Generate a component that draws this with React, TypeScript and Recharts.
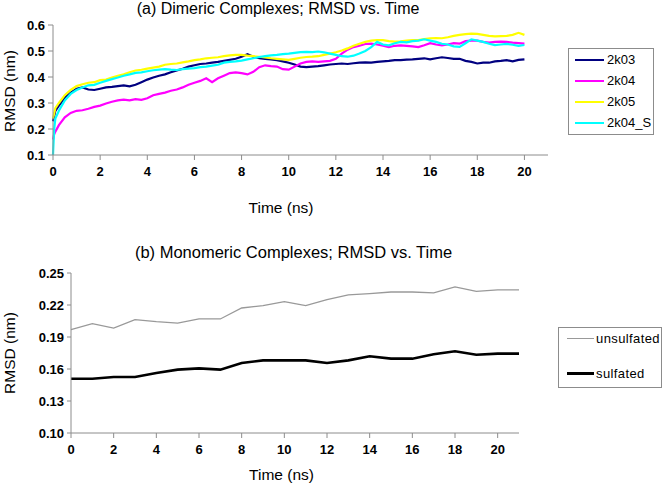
import { LineChart, Line, XAxis, YAxis } from "recharts";

// (a) dimeric complexes
const TIME = [
  0, 0.05, 0.1,
  0.25, 0.5, 0.75, 1, 1.25, 1.5, 1.75, 2, 2.25, 2.5,
  2.75, 3, 3.25, 3.5, 3.75, 4, 4.25, 4.5, 4.75, 5,
  5.25, 5.5, 5.75, 6, 6.25, 6.5, 6.75, 7, 7.25, 7.5,
  7.75, 8, 8.25, 8.5, 8.75, 9, 9.25, 9.5, 9.75, 10,
  10.25, 10.5, 10.75, 11, 11.25, 11.5, 11.75, 12, 12.25, 12.5,
  12.75, 13, 13.25, 13.5, 13.75, 14, 14.25, 14.5, 14.75, 15,
  15.25, 15.5, 15.75, 16, 16.25, 16.5, 16.75, 17, 17.25, 17.5,
  17.75, 18, 18.25, 18.5, 18.75, 19, 19.25, 19.5, 19.75, 20,
];

const S_2K03 = [
  0.23, 0.25, 0.27,
  0.29, 0.32, 0.34, 0.355, 0.36, 0.352, 0.35, 0.355, 0.36, 0.362,
  0.365, 0.368, 0.364, 0.37, 0.38, 0.39, 0.398, 0.405, 0.41, 0.418,
  0.425, 0.432, 0.44, 0.445, 0.45, 0.452, 0.455, 0.458, 0.462, 0.466,
  0.47, 0.478, 0.488, 0.478, 0.472, 0.47, 0.468, 0.465, 0.46, 0.455,
  0.448, 0.44, 0.438, 0.44, 0.442, 0.445, 0.448, 0.45, 0.452, 0.45,
  0.453, 0.455, 0.456, 0.455, 0.458, 0.46, 0.462, 0.465, 0.465, 0.467,
  0.468, 0.47, 0.472, 0.468, 0.472, 0.476, 0.473, 0.47, 0.47, 0.462,
  0.458, 0.452, 0.455, 0.455, 0.46, 0.462, 0.465, 0.46, 0.466, 0.468,
];

const S_2K04 = [
  0.16, 0.18, 0.19,
  0.215, 0.245, 0.262, 0.27, 0.272, 0.278, 0.285, 0.29, 0.298, 0.305,
  0.31, 0.313, 0.31, 0.315, 0.312, 0.318, 0.33, 0.335, 0.34, 0.347,
  0.352, 0.36, 0.37, 0.378, 0.385, 0.395, 0.38, 0.395, 0.405, 0.415,
  0.418, 0.415, 0.41, 0.42, 0.438, 0.445, 0.442, 0.44, 0.43, 0.428,
  0.44, 0.452, 0.458, 0.46, 0.458, 0.46, 0.462, 0.47, 0.49, 0.505,
  0.515, 0.52, 0.527, 0.528, 0.525, 0.52, 0.515, 0.52, 0.522, 0.52,
  0.518, 0.515, 0.522, 0.53, 0.525, 0.522, 0.525, 0.53, 0.528, 0.538,
  0.54, 0.54, 0.535, 0.532, 0.535, 0.536, 0.535, 0.532, 0.53, 0.528,
];

const S_2K05 = [
  0.24, 0.26, 0.28,
  0.3, 0.33, 0.35, 0.365, 0.372, 0.378, 0.38, 0.388, 0.39, 0.398,
  0.405, 0.41, 0.418, 0.425, 0.428, 0.432, 0.436, 0.44, 0.447, 0.45,
  0.452, 0.456, 0.46, 0.465, 0.468, 0.472, 0.474, 0.476, 0.48, 0.483,
  0.485, 0.485, 0.482, 0.48, 0.478, 0.475, 0.472, 0.47, 0.468, 0.466,
  0.47, 0.474, 0.477, 0.478, 0.48, 0.485, 0.49, 0.495, 0.502, 0.51,
  0.52, 0.528, 0.535, 0.54, 0.542, 0.542, 0.538, 0.536, 0.537, 0.54,
  0.542, 0.542, 0.546, 0.549, 0.55, 0.549, 0.553, 0.558, 0.562, 0.565,
  0.567, 0.566, 0.562, 0.558, 0.556, 0.557, 0.558, 0.562, 0.57, 0.562,
];

const S_2K04_S = [
  0.1, 0.2, 0.24,
  0.27, 0.31, 0.335, 0.35, 0.36, 0.368, 0.37, 0.378, 0.385, 0.392,
  0.398, 0.405, 0.41, 0.416, 0.418, 0.422, 0.426, 0.428, 0.43, 0.428,
  0.427, 0.43, 0.432, 0.434, 0.438, 0.44, 0.444, 0.447, 0.455, 0.458,
  0.46, 0.463, 0.468, 0.472, 0.477, 0.48, 0.483, 0.485, 0.488, 0.49,
  0.493, 0.496, 0.497, 0.496, 0.498, 0.495, 0.49, 0.485, 0.48, 0.478,
  0.482, 0.49, 0.5, 0.515, 0.535, 0.525, 0.522, 0.53, 0.535, 0.533,
  0.538, 0.54, 0.545, 0.54, 0.535, 0.528, 0.525, 0.518, 0.516, 0.53,
  0.545, 0.54, 0.535, 0.528, 0.523, 0.525, 0.527, 0.524, 0.52, 0.523,
];

const DIMER_SERIES = [
  { key: "k03", name: "2k03", color: "#000080", values: S_2K03 },
  { key: "k04", name: "2k04", color: "#ff00ff", values: S_2K04 },
  { key: "k05", name: "2k05", color: "#ffff00", values: S_2K05 },
  { key: "k04s", name: "2k04_S", color: "#00ffff", values: S_2K04_S },
];

// (b) monomeric complexes
const MONO_TIME = [0, 1, 2, 3, 4, 5, 6, 7, 8, 9, 10, 11, 12, 13, 14, 15, 16, 17, 18, 19, 20, 21];
const UNSULFATED = [
  0.197, 0.2025, 0.1984, 0.2063, 0.2044, 0.2031, 0.2069, 0.2069, 0.2172, 0.2194, 0.2231,
  0.2194, 0.225, 0.2294, 0.2306, 0.2322, 0.2322, 0.2313, 0.2369, 0.2328, 0.2341, 0.2341,
];
const SULFATED = [
  0.1509, 0.1509, 0.1525, 0.1525, 0.1563, 0.1594, 0.1606, 0.1594, 0.1656, 0.1681, 0.1681,
  0.1681, 0.1656, 0.1681, 0.1719, 0.1697, 0.1697, 0.1738, 0.1766, 0.1734, 0.1744, 0.1744,
];

const X_TICKS = [0, 2, 4, 6, 8, 10, 12, 14, 16, 18, 20];
const TOP_Y_TICKS = [0.1, 0.2, 0.3, 0.4, 0.5, 0.6];
const BOTTOM_Y_TICKS = [0.1, 0.13, 0.16, 0.19, 0.22, 0.25];

const FONT = "'Liberation Sans', Arial, sans-serif";
const AXIS = "#8c8c8c";
const tickStyle = { fontSize: 13, fontWeight: "bold" as const, fill: "#000", fontFamily: FONT };

const dimerData = TIME.map((t, i) => {
  const row: Record<string, number> = { t };
  DIMER_SERIES.forEach((s) => (row[s.key] = s.values[i]));
  return row;
});

const monoData = MONO_TIME.map((t, i) => ({
  t,
  unsulfated: UNSULFATED[i],
  sulfated: SULFATED[i],
}));

function Text({ x, y, size, children, rotate }: any) {
  return (
    <div
      style={{
        position: "absolute",
        left: x,
        top: y,
        transform: `translate(-50%, -50%)${rotate ? " rotate(-90deg)" : ""}`,
        whiteSpace: "nowrap",
        fontSize: size,
        fontFamily: FONT,
        color: "#000",
        lineHeight: 1,
      }}
    >
      {children}
    </div>
  );
}

function LegendBox({ left, top, width, height, rows, padTop, rowH, rowGap, lineLeft, lineW, gap }: any) {
  return (
    <div
      style={{
        position: "absolute",
        left,
        top,
        width,
        height,
        boxSizing: "border-box",
        border: `1px solid ${AXIS}`,
        background: "#fff",
        paddingTop: padTop,
        fontFamily: FONT,
        fontSize: 13,
        display: "flex",
        flexDirection: "column",
        rowGap,
      }}
    >
      {rows.map((r: any) => (
        <div key={r.name} style={{ display: "flex", alignItems: "center", height: rowH, paddingLeft: lineLeft }}>
          <div style={{ width: lineW, height: r.w, background: r.color, marginRight: gap, flexShrink: 0 }} />
          <span style={{ letterSpacing: r.spacing ?? 0 }}>{r.name}</span>
        </div>
      ))}
    </div>
  );
}

export default function App() {
  return (
    <div style={{ position: "absolute", left: 0, top: 0, width: 662, height: 485, background: "#fff", overflow: "hidden" }}>
      <div style={{ position: "absolute", left: 0, top: 0 }}>
        <LineChart width={662} height={230} data={dimerData} margin={{ top: 25, right: 114, bottom: 45, left: 0 }}>
          <XAxis
            type="number"
            dataKey="t"
            domain={[0, 21]}
            ticks={X_TICKS}
            height={30}
            stroke={AXIS}
            tickSize={5}
            tickMargin={7}
            tick={tickStyle}
          />
          <YAxis
            type="number"
            domain={[0.1, 0.6]}
            ticks={TOP_Y_TICKS}
            width={53}
            stroke={AXIS}
            tickSize={5}
            tickMargin={3}
            tick={tickStyle}
            tickFormatter={(v) => v.toFixed(1)}
          />
          {DIMER_SERIES.map((s) => (
            <Line
              key={s.key}
              type="linear"
              dataKey={s.key}
              stroke={s.color}
              strokeWidth={2.2}
              dot={false}
              isAnimationActive={false}
            />
          ))}
        </LineChart>
      </div>

      <div style={{ position: "absolute", left: 0, top: 230 }}>
        <LineChart width={662} height={255} data={monoData} margin={{ top: 43, right: 143, bottom: 22, left: 0 }}>
          <XAxis
            type="number"
            dataKey="t"
            domain={[0, 21]}
            ticks={X_TICKS}
            height={30}
            stroke={AXIS}
            tickSize={5}
            tickMargin={7}
            tick={tickStyle}
          />
          <YAxis
            type="number"
            domain={[0.1, 0.25]}
            ticks={BOTTOM_Y_TICKS}
            width={71}
            stroke={AXIS}
            tickSize={4}
            tickMargin={3}
            tick={tickStyle}
            tickFormatter={(v) => v.toFixed(2)}
          />
          <Line type="linear" dataKey="unsulfated" stroke="#999999" strokeWidth={1.3} dot={false} isAnimationActive={false} />
          <Line type="linear" dataKey="sulfated" stroke="#000000" strokeWidth={2.6} dot={false} isAnimationActive={false} />
        </LineChart>
      </div>

      <Text x={278} y={9} size={16}>(a) Dimeric Complexes; RMSD vs. Time</Text>
      <Text x={9.5} y={91} size={15.5} rotate>RMSD (nm)</Text>
      <Text x={281} y={208} size={15.5}>Time (ns)</Text>

      <Text x={293.5} y={252} size={16.5}>(b) Monomeric Complexes; RMSD vs. Time</Text>
      <Text x={10} y={353} size={15.5} rotate>RMSD (nm)</Text>
      <Text x={281.5} y={475} size={15.5}>Time (ns)</Text>

      <LegendBox
        left={568}
        top={48}
        width={86}
        height={87}
        padTop={0}
        rowH={21}
        rowGap={0}
        lineLeft={6}
        lineW={29}
        gap={3}
        rows={DIMER_SERIES.map((s) => ({ name: s.name, color: s.color, w: 2 }))}
      />
      <LegendBox
        left={558}
        top={327}
        width={104}
        height={61}
        padTop={0}
        rowH={20}
        rowGap={15}
        lineLeft={8}
        lineW={27}
        gap={2}
        rows={[
          { name: "unsulfated", color: "#999999", w: 1, spacing: 0.4 },
          { name: "sulfated", color: "#000000", w: 3, spacing: 0.4 },
        ]}
      />
    </div>
  );
}
